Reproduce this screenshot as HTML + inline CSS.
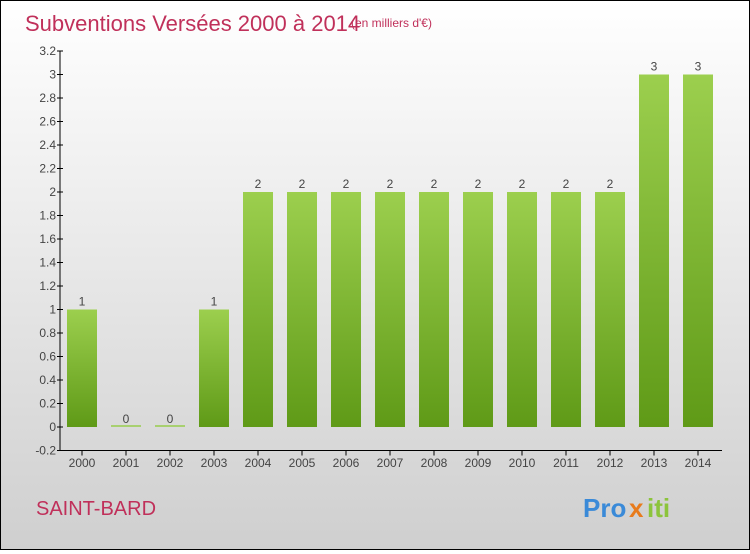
<!DOCTYPE html>
<html><head><meta charset="utf-8"><style>
html,body{margin:0;padding:0}
body{width:750px;height:550px;overflow:hidden;font-family:"Liberation Sans",sans-serif}
#wrap{position:relative;width:748px;height:548px;border:1px solid #000;background:linear-gradient(#ffffff,#cfcfcf)}
</style></head><body>
<div id="wrap">
<svg id="chart" width="748" height="548" xmlns="http://www.w3.org/2000/svg">
<defs><linearGradient id="bg" x1="0" y1="0" x2="0" y2="1"><stop offset="0" stop-color="#9ccf4e"/><stop offset="1" stop-color="#5f9a17"/></linearGradient></defs>
<text x="24" y="30" font-size="22" fill="#c0305a">Subventions Versées 2000 à 2014</text>
<text x="350" y="26" font-size="12" fill="#c0305a">(en milliers d'€)</text>
<text x="35" y="514" font-size="20" fill="#c0305a">SAINT-BARD</text>
<g font-size="26" font-weight="bold"><text x="582" y="516" fill="#3a8ad8">Pro</text><text x="628" y="516" fill="#e87b1c">x</text><text x="646" y="516" fill="#8cc43c">iti</text></g>
<g id="axes"></g><g id="bars"></g>
</svg></div>
<script>
const years=["2000","2001","2002","2003","2004","2005","2006","2007","2008","2009","2010","2011","2012","2013","2014"];
const values=[1,0,0,1,2,2,2,2,2,2,2,2,2,3,3];
const yTicks=[-0.2,0,0.2,0.4,0.6,0.8,1,1.2,1.4,1.6,1.8,2,2.2,2.4,2.6,2.8,3,3.2];
const NS="http://www.w3.org/2000/svg";
const y0=426,pxPer=117.5;
function yS(v){return y0-v*pxPer;}
function xS(i){return 81+i*44;}
const ax=document.getElementById('axes'),bg=document.getElementById('bars');
function mk(t,a,p){const e=document.createElementNS(NS,t);for(const k in a)e.setAttribute(k,a[k]);p.appendChild(e);return e;}
const yAxis=mk('line',{x1:59,y1:yS(3.2),x2:59,y2:yS(-0.2),stroke:'#000'},ax);


const xAxis=mk('line',{x1:59,y1:yS(-0.2),x2:721,y2:yS(-0.2),stroke:'#000'},ax);


yTicks.forEach(v=>{
  mk('line',{x1:56,y1:yS(v),x2:62,y2:yS(v),stroke:'#000'},ax);
  const t=mk('text',{x:55,y:yS(v)+4,'font-size':12,'text-anchor':'end',fill:'#444'},ax);
  t.textContent=String(Math.round(v*10)/10);
  
  
});
years.forEach((yr,i)=>{
  const x=xS(i);
  mk('line',{x1:x,y1:yS(-0.2),x2:x,y2:yS(-0.2)+5,stroke:'#000'},ax);
  const t=mk('text',{x:x,y:466,'font-size':12,'text-anchor':'middle',fill:'#444'},ax);
  t.textContent=yr;
  
  
  const v=values[i];
  const h=Math.max(yS(0)-yS(v),2);
  const r=mk('rect',{x:x-15,y:yS(0)-h,width:30,height:h,fill:v>0?'url(#bg)':'#a8d070'},bg);
  
  
  const l=mk('text',{x:x,y:yS(v)-4,'font-size':12,'text-anchor':'middle',fill:'#444'},bg);
  l.textContent=String(v);
  
  
});
</script>
</body></html>
